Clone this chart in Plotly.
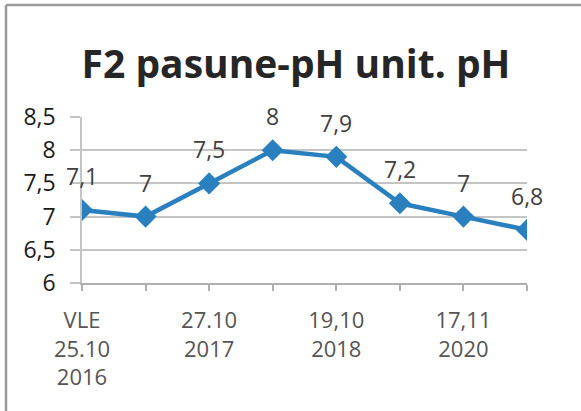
import plotly.graph_objects as go

# pH measurements for plot F2 (pasture)
tick_labels = ["VLE<br>25.10<br>2016", "", "27.10<br>2017", "", "19,10<br>2018", "", "17,11<br>2020", ""]
ph_values = [7.1, 7.0, 7.5, 8.0, 7.9, 7.2, 7.0, 6.8]
y_ticks = [6, 6.5, 7, 7.5, 8, 8.5]

positions = list(range(len(ph_values)))
blue = "#2a80be"
grid = "#c4c4c4"
W, H = 581, 411
ml, mr, mt, mb = 82, 54, 117, 128

def fmt(v):
    return (f"{v:g}").replace(".", ",")

fig = go.Figure(
    go.Scatter(
        x=positions,
        y=ph_values,
        mode="lines+markers",
        line=dict(color=blue, width=4.5),
        marker=dict(symbol="diamond", size=17, color=blue),
        hoverinfo="skip",
    )
)

for x, v in zip(positions, ph_values):
    fig.add_annotation(
        x=x, y=v, text=fmt(v), showarrow=False, yshift=34,
        font=dict(family="Open Sans", size=23, color="#404040"),
    )

# frame lines along the top and left edges of the chart area
pw, ph = W - ml - mr, H - mt - mb
x_left = (6 - ml) / pw
y_top = 1 + (mt - 5) / ph
fig.add_shape(type="line", xref="paper", yref="paper", x0=x_left, x1=(W - ml) / pw,
              y0=y_top, y1=y_top, line=dict(color="#9a9a9a", width=2.5))
fig.add_shape(type="line", xref="paper", yref="paper", x0=x_left, x1=x_left,
              y0=y_top, y1=-(mb + 5) / ph, line=dict(color="#9a9a9a", width=2.5))

fig.update_layout(
    width=W, height=H,
    margin=dict(l=ml, r=mr, t=mt, b=mb),
    paper_bgcolor="white", plot_bgcolor="white",
    showlegend=False,
    title=dict(
        text="<b>F2 pasune-pH unit. pH</b>",
        x=(296 - ml) / pw, xref="paper", xanchor="center",
        y=1 - 64 / H, yanchor="middle",
        font=dict(family="Open Sans", size=39, color="#262626"),
    ),
    xaxis=dict(
        range=[0, len(ph_values) - 1],
        tickmode="array", tickvals=positions, ticktext=tick_labels,
        ticks="outside", ticklen=6, tickcolor="#b0b0b0", tickwidth=1.5,
        showline=True, linecolor="#b0b0b0", linewidth=1.5,
        showgrid=False, zeroline=False,
        tickfont=dict(family="Open Sans", size=22, color="#555555"),
        ticklabelstandoff=11,
        fixedrange=True,
    ),
    yaxis=dict(
        range=[6, 8.5],
        tickmode="array", tickvals=y_ticks, ticktext=[fmt(v) for v in y_ticks],
        ticks="outside", ticklen=10, tickcolor=grid, tickwidth=1.5,
        showline=True, linecolor=grid, linewidth=1.5,
        showgrid=True, gridcolor=grid, gridwidth=1.5, zeroline=False,
        tickfont=dict(family="Open Sans", size=23, color="#1a1a1a"),
        ticklabelstandoff=10,
        fixedrange=True,
    ),
)

fig.write_html("out.html")
